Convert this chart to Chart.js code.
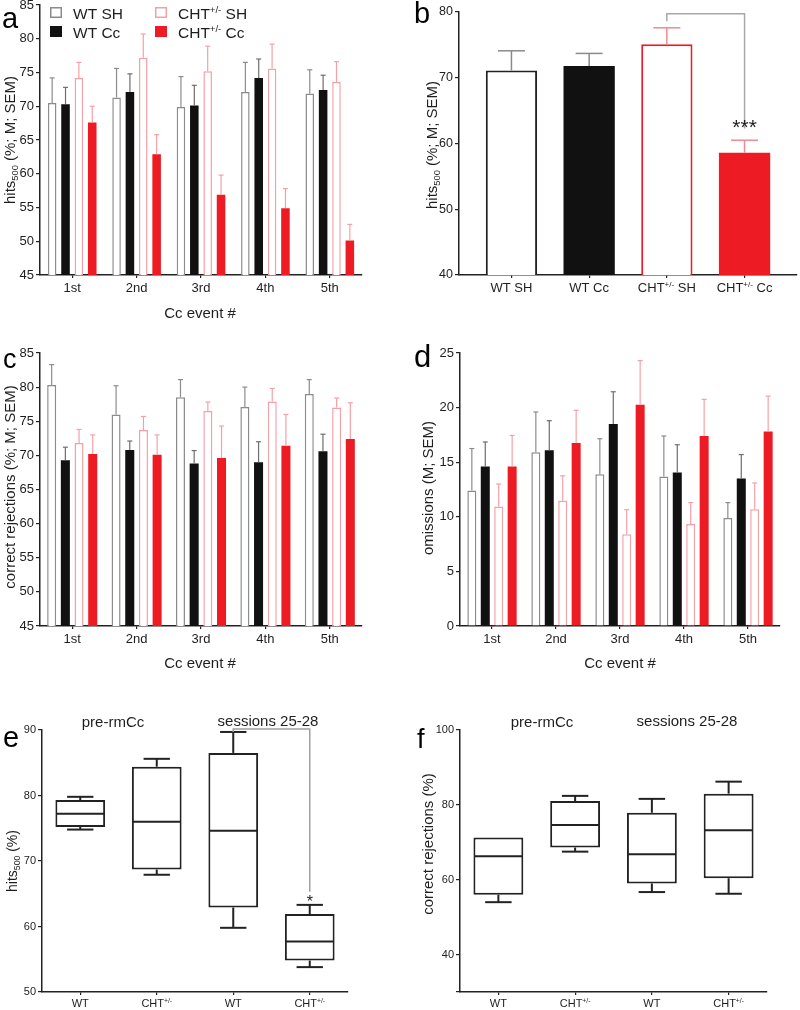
<!DOCTYPE html>
<html><head><meta charset="utf-8">
<script src="https://cdn.jsdelivr.net/npm/chart.js@4"></script>
<style>
html,body{margin:0;padding:0;background:#fff;}
#wrap{position:relative;width:800px;height:1010px;overflow:hidden;background:#fff;}
canvas{position:absolute;}
</style></head><body>
<div id="wrap">
<canvas id="ca" width="400" height="330" style="left:0px;top:0px;width:400px;height:330px"></canvas>
<canvas id="cb" width="400" height="330" style="left:400px;top:0px;width:400px;height:330px"></canvas>
<canvas id="cc" width="400" height="340" style="left:0px;top:330px;width:400px;height:340px"></canvas>
<canvas id="cd" width="400" height="340" style="left:400px;top:330px;width:400px;height:340px"></canvas>
<canvas id="ce" width="400" height="340" style="left:0px;top:670px;width:400px;height:340px"></canvas>
<canvas id="cf" width="400" height="340" style="left:400px;top:670px;width:400px;height:340px"></canvas>
</div>
<script>
// ---------------- DATA ----------------
const events = ['1st','2nd','3rd','4th','5th'];
const groupNames = ['WT SH','WT Cc','CHT+/- SH','CHT+/- Cc'];

// panel a: hits500 (mean, SEM)
const hitsWTSH   = [70.5, 71.3, 69.9, 72.1, 71.9];
const hitsWTSHsem= [3.7, 4.3, 4.5, 4.4, 3.5];
const hitsWTCc   = [70.3, 72.1, 70.1, 74.2, 72.4];
const hitsWTCcsem= [2.5, 2.7, 3.0, 2.8, 2.2];
const hitsCHTSH  = [74.2, 77.2, 75.2, 75.6, 73.6];
const hitsCHTSHsem=[2.3, 3.5, 3.7, 3.6, 3.0];
const hitsCHTCc  = [67.6, 62.9, 56.9, 54.9, 50.1];
const hitsCHTCcsem=[2.4, 2.9, 2.9, 2.9, 2.4];

// panel b: overall hits500
const bMeans = [71.1, 71.8, 75.1, 58.6];
const bSems  = [3.0, 1.9, 2.5, 1.9];

// panel c: correct rejections
const crWTSH   = [80.3, 76.0, 78.5, 77.1, 79.0];
const crWTSHsem= [3.0, 4.2, 2.6, 2.9, 2.1];
const crWTCc   = [69.3, 70.8, 68.8, 69.0, 70.6];
const crWTCcsem= [1.9, 1.3, 1.9, 3.0, 2.5];
const crCHTSH  = [71.8, 73.7, 76.5, 77.9, 77.0];
const crCHTSHsem=[2.0, 2.0, 1.3, 1.9, 1.4];
const crCHTCc  = [70.2, 70.1, 69.6, 71.4, 72.4];
const crCHTCcsem=[2.8, 2.9, 4.7, 4.6, 5.3];

// panel d: omissions
const omWTSH   = [12.4, 15.9, 13.9, 13.7, 9.9];
const omWTSHsem= [3.85, 3.7, 3.25, 3.7, 1.4];
const omWTCc   = [14.6, 16.1, 18.5, 14.05, 13.5];
const omWTCcsem= [2.25, 2.7, 2.95, 2.55, 2.2];
const omCHTSH  = [10.95, 11.5, 8.4, 9.35, 10.7];
const omCHTSHsem=[2.05, 2.25, 2.25, 1.95, 2.4];
const omCHTCc  = [14.6, 16.75, 20.25, 17.4, 17.8];
const omCHTCcsem=[2.85, 3.0, 4.05, 3.35, 3.25];

// panels e/f: box plots
const boxGroups = ['WT','CHT+/-','WT','CHT+/-'];
const eMin = [74.8, 67.9, 59.8, 53.8];
const eQ1  = [75.2, 68.7, 62.9, 54.8];
const eMed = [77.2, 76.0, 74.6, 57.7];
const eQ3  = [79.3, 84.4, 86.5, 61.9];
const eMax = [79.8, 85.6, 89.7, 63.3];
const fMin = [54.0, 67.5, 56.7, 56.25];
const fQ1  = [56.0, 68.6, 59.0, 60.4];
const fMed = [66.3, 74.6, 66.8, 73.2];
const fQ3  = [71.25, 81.0, 77.9, 83.0];
const fMax = [71.25, 82.4, 81.6, 86.2];

// tick settings
const aTicks = {min:45, max:85, step:5};
const bTicks = {min:40, max:80, step:10};
const cTicks = {min:45, max:85, step:5};
const dTicks = {min:0, max:25, step:5};
const eTicks = {min:50, max:90, step:10};
const fTicks = {min:30, max:100, step:20};

// ---------------- HELPERS ----------------
const FF = '"Liberation Sans", Arial, Helvetica, sans-serif';
Chart.defaults.font.family = FF;
Chart.defaults.color = '#222';
const INK = '#1e1e1e';

const STY = [
  {bg:'#ffffff', border:'#8c8c8c', bw:1.5, err:'#8c8c8c'},
  {bg:'#111111', border:'#111111', bw:0,   err:'#6e6e6e'},
  {bg:'#ffffff', border:'#f5a0a6', bw:1.5, err:'#f5a0a6'},
  {bg:'#ed1c24', border:'#ed1c24', bw:0,   err:'#f5a0a6'}
];

function pinY(w){return s=>{s.width=w;s.paddingTop=0;s.paddingBottom=0;s.paddingLeft=0;s.paddingRight=0;};}
function pinX(h){return s=>{s.height=h;s.paddingLeft=0;s.paddingRight=0;s.paddingTop=0;s.paddingBottom=0;};}

function toParts(s){
  const out=[];
  s.split(/(\+\/-)/).forEach(t=>{ if(!t) return; out.push(t==='+/-'?[t,'sup']:[t]); });
  return out;
}
function richWidth(ctx, parts, size){
  let w=0;
  parts.forEach(p=>{ ctx.font=(p[1]?size*0.62:size)+'px '+FF; w+=ctx.measureText(p[0]).width; });
  return w;
}
function drawRich(ctx, parts, x, y, size, align, color){
  const w=richWidth(ctx, parts, size);
  let cx = align==='center'? x-w/2 : (align==='right'? x-w : x);
  ctx.save();
  ctx.fillStyle=color||INK; ctx.textBaseline='alphabetic'; ctx.textAlign='left';
  parts.forEach(p=>{
    const s=p[1]?size*0.62:size;
    ctx.font=s+'px '+FF;
    const dy = p[1]==='sup' ? -size*0.36 : (p[1]==='sub' ? size*0.2 : 0);
    ctx.fillText(p[0], cx, y+dy);
    cx+=ctx.measureText(p[0]).width;
  });
  ctx.restore();
}
function drawRotated(ctx, parts, cx, cy, size){
  ctx.save(); ctx.translate(cx, cy); ctx.rotate(-Math.PI/2);
  drawRich(ctx, parts, 0, size*0.36, size, 'center');
  ctx.restore();
}
function letter(ctx, t, x, y, size){
  ctx.save(); ctx.font=size+'px '+FF; ctx.fillStyle='#000'; ctx.textAlign='left'; ctx.textBaseline='alphabetic';
  ctx.fillText(t, x, y); ctx.restore();
}
function line(ctx, pts, color, lw){
  ctx.save(); ctx.strokeStyle=color; ctx.lineWidth=lw; ctx.beginPath();
  pts.forEach((p,i)=> i? ctx.lineTo(p[0],p[1]) : ctx.moveTo(p[0],p[1]));
  ctx.stroke(); ctx.restore();
}

function errPlugin(sems, colors, capW, lw){
  return {id:'errbars', afterDatasetsDraw(chart){
    const ctx=chart.ctx, ys=chart.scales.y;
    chart.data.datasets.forEach((ds,i)=>{
      const meta=chart.getDatasetMeta(i);
      meta.data.forEach((el,j)=>{
        const v=ds.data[j]; const val=(typeof v==='object')? v.y : v;
        const top=ys.getPixelForValue(val+sems[i][j]);
        const col=Array.isArray(colors[i])? colors[i][j] : colors[i];
        line(ctx, [[el.x, el.y],[el.x, top]], col, lw);
        line(ctx, [[el.x-capW/2, top],[el.x+capW/2, top]], col, lw);
      });
    });
  }};
}
function textPlugin(fn){ return {id:'texts', afterDraw(chart){ fn(chart, chart.ctx); }}; }

function axisX(h, tickSize, extra){
  return Object.assign({
    offset:true,
    grid:{display:true, drawOnChartArea:false, drawTicks:true, tickLength:3, offset:false, color:'#222', lineWidth:1.2},
    border:{display:true, color:'#222', width:1.5},
    ticks:{font:{size:tickSize}, color:INK, padding:3, maxRotation:0, autoSkip:false},
    afterFit:pinX(h)
  }, extra||{});
}
function axisY(w, t, tickSize, cb){
  return {
    min:t.min, max:t.max,
    grid:{display:true, drawOnChartArea:false, drawTicks:true, tickLength:4, color:'#222', lineWidth:1.2},
    border:{display:true, color:'#222', width:1.5},
    ticks:{stepSize:t.step, font:{size:tickSize}, color:INK, padding:2, callback: cb || (v=>v)},
    afterFit:pinY(w)
  };
}

function grouped(id, series, sems, t, pad, yW, xH, catPct, barPct, draw){
  const ds=series.map((d,i)=>({label:groupNames[i], data:d, backgroundColor:STY[i].bg, borderColor:STY[i].border,
    borderWidth:STY[i].bw, categoryPercentage:catPct, barPercentage:barPct}));
  return new Chart(document.getElementById(id), {
    type:'bar',
    data:{labels:events, datasets:ds},
    options:{responsive:false, animation:false, events:[],
      layout:{padding:pad},
      plugins:{legend:{display:false}, tooltip:{enabled:false}},
      scales:{x:axisX(xH,13), y:axisY(yW,t,13)}},
    plugins:[errPlugin(sems, STY.map(s=>s.err), 5, 1.2), textPlugin(draw)]
  });
}

// ---------------- PANEL A ----------------
grouped('ca', [hitsWTSH,hitsWTCc,hitsCHTSH,hitsCHTCc], [hitsWTSHsem,hitsWTCcsem,hitsCHTSHsem,hitsCHTCcsem],
  aTicks, {left:0, top:5, right:38, bottom:0}, 40, 55, 0.83, 0.64, (chart, ctx)=>{
    letter(ctx, 'a', 2, 28, 29);
    drawRotated(ctx, [['hits'],['500','sub'],[' (%; M; SEM)']], 10, 140, 15);
    drawRich(ctx, [['Cc event #']], 200, 317.5, 15, 'center');
    // legend
    const items=[[50,7],[50,26],[155,7],[155,26]];
    items.forEach((p,i)=>{
      ctx.save();
      ctx.fillStyle=STY[i].bg; ctx.fillRect(p[0],p[1],12,11);
      if(STY[i].bw){ ctx.strokeStyle=STY[i].border; ctx.lineWidth=1.5; ctx.strokeRect(p[0]+0.75,p[1]+0.75,10.5,9.5); }
      ctx.restore();
      drawRich(ctx, toParts(groupNames[i]), p[0]+23, p[1]+11.5, 15.5, 'left');
    });
  });

// ---------------- PANEL B ----------------
new Chart(document.getElementById('cb'), {
  type:'bar',
  data:{datasets:[{data:bMeans.map((v,i)=>({x:i,y:v})),
    backgroundColor:['#ffffff','#111111','#ffffff','#ed1c24'],
    borderColor:['#222222','#111111','#ec1c24','#ed1c24'],
    borderWidth:[2,0,2,0], categoryPercentage:1, barPercentage:0.66}]},
  options:{responsive:false, animation:false, events:[],
    layout:{padding:{left:0, top:12, right:3, bottom:0}},
    plugins:{legend:{display:false}, tooltip:{enabled:false}},
    scales:{
      x:axisX(55, 12.5, {type:'linear', offset:false, min:-0.675, max:3.675,
        ticks:{stepSize:1, includeBounds:false, callback:()=>'' , autoSkip:false, maxRotation:0}}),
      y:axisY(59, bTicks, 12.5)
    }},
  plugins:[errPlugin([bSems], [['#8a8a8a','#8a8a8a','#f08a90','#f08a90']], 27, 1.5),
    textPlugin((chart, ctx)=>{
      const xs=chart.scales.x, ys=chart.scales.y;
      letter(ctx, 'b', 14, 23, 29);
      drawRotated(ctx, [['hits'],['500','sub'],[' (%; M; SEM)']], 32, 145, 15);
      groupNames.forEach((g,i)=> drawRich(ctx, toParts(g), xs.getPixelForValue(i), 291.5, 13, 'center'));
      // significance bracket
      const x2=xs.getPixelForValue(2), x3=xs.getPixelForValue(3);
      line(ctx, [[x2, ys.getPixelForValue(78.6)],[x2, ys.getPixelForValue(79.75)],[x3, ys.getPixelForValue(79.75)],[x3, ys.getPixelForValue(62.3)]], '#a8a8a8', 1.5);
      ctx.save(); ctx.font='21px '+FF; ctx.fillStyle=INK; ctx.textAlign='center'; ctx.textBaseline='alphabetic';
      ctx.fillText('***', x3, 134); ctx.restore();
    })]
});

// ---------------- PANEL C ----------------
grouped('cc', [crWTSH,crWTCc,crCHTSH,crCHTCc], [crWTSHsem,crWTCcsem,crCHTSHsem,crCHTCcsem],
  cTicks, {left:0, top:23, right:38, bottom:0}, 40, 44, 0.85, 0.66, (chart, ctx)=>{
    letter(ctx, 'c', 3, 38, 27);
    drawRotated(ctx, [['correct rejections (%; M; SEM)']], 10, 157, 15);
    drawRich(ctx, [['Cc event #']], 200, 338, 15, 'center');
  });

// ---------------- PANEL D ----------------
grouped('cd', [omWTSH,omWTCc,omCHTSH,omCHTCc], [omWTSHsem,omWTCcsem,omCHTSHsem,omCHTCcsem],
  dTicks, {left:0, top:23, right:20, bottom:0}, 60, 44, 0.84, 0.67, (chart, ctx)=>{
    letter(ctx, 'd', 14, 37, 31);
    drawRotated(ctx, [['omissions (M; SEM)']], 28, 158, 15);
    drawRich(ctx, [['Cc event #']], 220, 338, 15, 'center');
  });

// ---------------- PANELS E/F (box plots) ----------------
function boxPlugin(mins, meds, maxs, q1s, q3s){
  return {id:'box', afterDatasetsDraw(chart){
    const ctx=chart.ctx, ys=chart.scales.y, meta=chart.getDatasetMeta(0);
    meta.data.forEach((el,j)=>{
      const x=el.x, w=el.width, cap=w*0.53;
      const pm=ys.getPixelForValue(meds[j]);
      line(ctx, [[x-w/2+1, pm],[x+w/2-1, pm]], '#222', 2);
      if(maxs[j]>q3s[j]){
        const pt=ys.getPixelForValue(maxs[j]);
        line(ctx, [[x, ys.getPixelForValue(q3s[j])],[x, pt]], '#222', 2);
        line(ctx, [[x-cap/2, pt],[x+cap/2, pt]], '#222', 2);
      }
      if(mins[j]<q1s[j]){
        const pb=ys.getPixelForValue(mins[j]);
        line(ctx, [[x, ys.getPixelForValue(q1s[j])],[x, pb]], '#222', 2);
        line(ctx, [[x-cap/2, pb],[x+cap/2, pb]], '#222', 2);
      }
    });
  }};
}
function boxChart(id, mins, q1s, meds, q3s, maxs, t, pad, yW, cb, draw){
  return new Chart(document.getElementById(id), {
    type:'bar',
    data:{labels:boxGroups, datasets:[{data:q1s.map((q,i)=>[q, q3s[i]]),
      backgroundColor:'#ffffff', borderColor:'#222', borderWidth:2, borderSkipped:false,
      categoryPercentage:1, barPercentage:0.65}]},
    options:{responsive:false, animation:false, events:[],
      layout:{padding:pad},
      plugins:{legend:{display:false}, tooltip:{enabled:false}},
      scales:{x:axisX(18, 11, {ticks:{display:false}}), y:axisY(yW, t, 11, cb)}},
    plugins:[boxPlugin(mins, meds, maxs, q1s, q3s), textPlugin((chart, ctx)=>{
      const xs=chart.scales.x;
      boxGroups.forEach((g,i)=> drawRich(ctx, toParts(g), xs.getPixelForValue(i), 336.5, 11, 'center'));
      draw(chart, ctx);
    })]
  });
}

boxChart('ce', eMin, eQ1, eMed, eQ3, eMax, eTicks, {left:0, top:60, right:52, bottom:0}, 42, null, (chart, ctx)=>{
  const xs=chart.scales.x, ys=chart.scales.y;
  letter(ctx, 'e', 3, 77, 29);
  drawRotated(ctx, [['hits'],['500','sub'],[' (%)']], 12, 191, 14);
  drawRich(ctx, [['pre-rmCc']], 113, 57, 15, 'center');
  drawRich(ctx, [['sessions 25-28']], 268, 56, 15, 'center');
  const x2=xs.getPixelForValue(2), x3=xs.getPixelForValue(3);
  line(ctx, [[x2, ys.getPixelForValue(89.7)],[x2, ys.getPixelForValue(90.15)],[x3, ys.getPixelForValue(90.15)],[x3, ys.getPixelForValue(65.3)]], '#a0a0a0', 1.5);
  ctx.save(); ctx.font='16px '+FF; ctx.fillStyle=INK; ctx.textAlign='center'; ctx.textBaseline='alphabetic';
  ctx.fillText('*', x3, 237); ctx.restore();
});

boxChart('cf', fMin, fQ1, fMed, fQ3, fMax, fTicks, {left:0, top:60, right:33, bottom:0}, 60, (v)=> v===30? '' : v, (chart, ctx)=>{
  letter(ctx, 'f', 17, 78, 27);
  drawRotated(ctx, [['correct rejections (%)']], 28, 174, 15);
  drawRich(ctx, [['pre-rmCc']], 142, 57, 15, 'center');
  drawRich(ctx, [['sessions 25-28']], 287, 56, 15, 'center');
});
</script>
</body></html>
